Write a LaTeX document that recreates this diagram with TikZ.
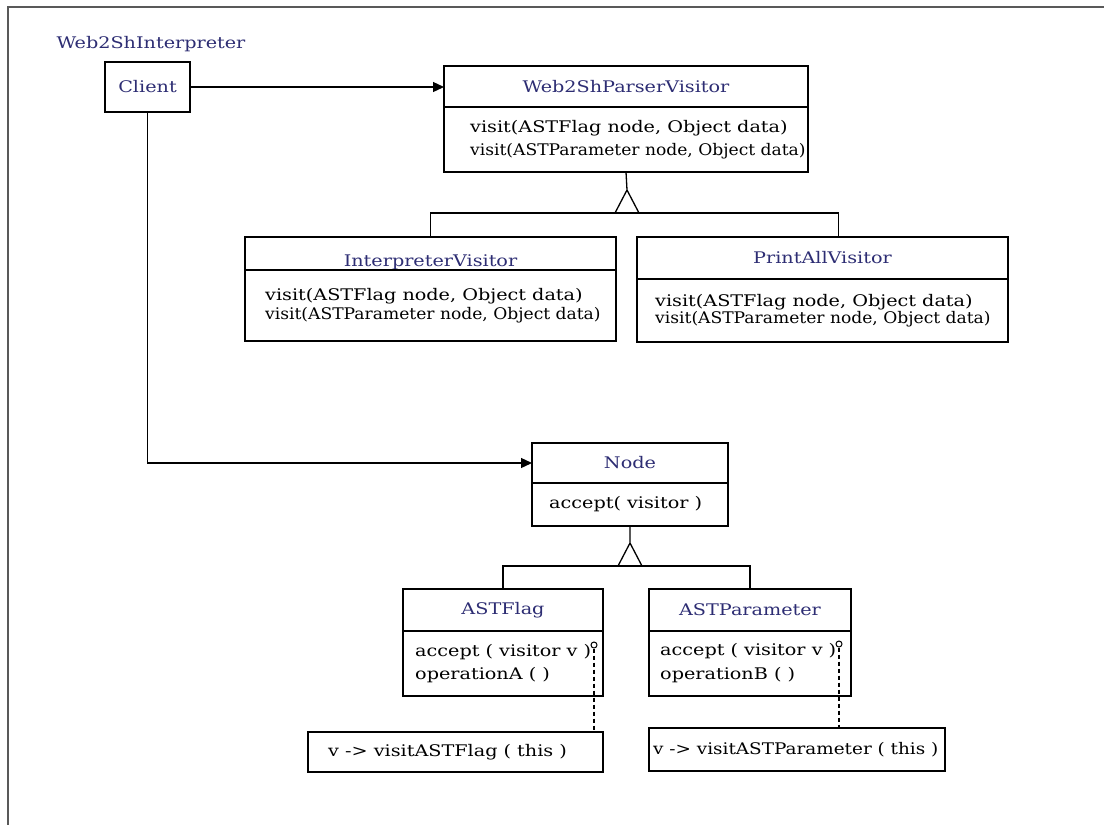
\documentclass[tikz,border=0pt]{standalone}
\usepackage{fontspec}
\setmainfont{DejaVu Serif}[FakeStretch=1.2]
\newfontfamily\tightfont{DejaVu Serif}[FakeStretch=1.07]
\newfontfamily\notefont{DejaVu Serif}[FakeStretch=1.15]
\usetikzlibrary{arrows.meta}
\definecolor{titleblue}{RGB}{45,45,115}
\tikzset{
    line/.style={black, line width=1.3pt},
    head/.style={line, draw, anchor=north west, outer sep=0pt, inner sep=0pt, text=titleblue, font=\fontsize{16}{19}\selectfont},
    body/.style={line, draw, anchor=north west, outer sep=0pt, inner sep=0pt},
    ops/.style={anchor=west, inner sep=0pt, align=left, font=\fontsize{16}{20}\selectfont},
    low/.style={text height=#1, text depth=0pt},
    assoc/.style={line, -{Triangle[length=11pt,width=10pt]}},
    pin/.style={line, draw, circle, inner sep=0pt, minimum size=6pt, line width=1pt},
    link/.style={line, line width=1.2pt, dash pattern=on 4pt off 3pt},
}
% #1 name, #2 top left, #3 width, #4 head height, #5 body height, #6 inset, #7 head options, #8 title, #9 operations
\newcommand{\ClassBox}[9]{
    \node[head, minimum width=#3, minimum height=#4, #7] (#1) at (#2) {#8};
    \node[body, minimum width=#3, minimum height=#5] (#1-ops) at (#1.south west) {};
    \node[ops] (#1-txt) at ([xshift=#6]#1-ops.west) {#9};
}

\begin{document}
\begin{tikzpicture}[x=1pt, y=-1pt]
    \useasboundingbox (0,0) rectangle (1104,825);
    \draw[black!65, line width=2pt] (1104,7) -- (8,7) -- (8,825);

    \node[anchor=west, text=titleblue, font=\fontsize{16}{19}\selectfont] (interpreter) at (53,44) {Web2ShInterpreter};
    \node[head, minimum width=85, minimum height=50] (client) at (105,62) {Client};

    \ClassBox{parser}{444,66}{364}{41}{65}{26}{}{Web2ShParserVisitor}
        {visit(ASTFlag node, Object data)\\[3pt]{\tightfont visit(ASTParameter node, Object data)}}
    \ClassBox{interp}{245,237}{371}{33}{71}{20}{low=26pt}{InterpreterVisitor}
        {visit(ASTFlag node, Object data)\\[-1pt]{\tightfont visit(ASTParameter node, Object data)}}
    \ClassBox{printall}{637,237}{371}{42}{63}{18}{}{PrintAllVisitor}
        {visit(ASTFlag node, Object data)\\[-3pt]{\tightfont visit(ASTParameter node, Object data)}}
    \ClassBox{node}{532,443}{196}{40}{43}{17}{}{Node}
        {accept( visitor )}
    \ClassBox{astflag}{403,589}{200}{42}{65}{12}{}{ASTFlag}
        {accept ( visitor v )\\[3pt]operationA ( )}
    \ClassBox{astparam}{649,589}{202}{42}{65}{11}{}{ASTParameter}
        {accept ( visitor v )\\[4pt]operationB ( )}

    % notes
    \node[body, minimum width=295, minimum height=40] (noteA) at (308,732) {};
    \node[ops] (noteA-txt) at ([xshift=20]noteA.west) {v -> visitASTFlag ( this )};
    \node[body, minimum width=296, minimum height=43] (noteB) at (649,728) {};
    \node[ops] (noteB-txt) at ([xshift=4]noteB.west) {\notefont v -> visitASTParameter ( this )};

    % associations
    \draw[assoc] (client.east) -- (client.east -| parser.west);
    \draw[assoc] (client.south) |- (node.west);

    % generalisation
    \coordinate (apex1) at (627,190);
    \draw[line] (parser-ops.south) -- (apex1) -- ++(-12,23) (apex1) -- ++(12,23);
    \draw[line] (interp.north) -- ++(0,-24) -| ([xshift=16pt]printall.north);
    \coordinate (apex2) at (630,543);
    \draw[line] (node-ops.south) -- (apex2) -- ++(-12,23) (apex2) -- ++(12,23);
    \draw[line] (astflag.north) -- ++(0,-23) -| (astparam.north);

    % implementation notes
    \node[pin] (pinA) at (594,645) {};
    \node[pin] (pinB) at (839,644) {};
    \draw[link] (pinA.south) -- (pinA.south |- noteA.north);
    \draw[link] (pinB.south) -- (pinB.south |- noteB.north);
\end{tikzpicture}
\end{document}
